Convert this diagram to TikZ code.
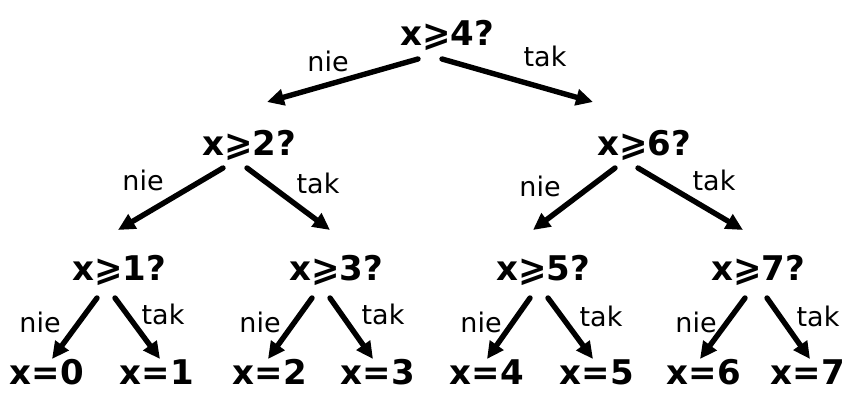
\documentclass[tikz,border=0pt]{standalone}
\usepackage{fontspec}
\setmainfont{DejaVu Sans}
\usetikzlibrary{arrows.meta,calc}
\tikzset{
  ask/.style={font=\fontsize{17}{19}\selectfont\bfseries, inner sep=0pt},
  leaf/.style={ask},
  lab/.style={font=\fontsize{13.5}{15}\selectfont, inner sep=0pt},
  arr/.style={-{Triangle[length=8.5pt,width=8pt]}, line width=2.7pt, line cap=round}
}
\begin{document}
\begin{tikzpicture}[x=0.5pt,y=-0.5pt]
  \useasboundingbox (0,0) rectangle (852,394);
  % questions
  \node[ask] (q4) at (447,35) {x⩾4?};
  \node[ask] (q2) at (249,145) {x⩾2?};
  \node[ask] (q6) at (644,145) {x⩾6?};
  \node[ask] (q1) at (119,270) {x⩾1?};
  \node[ask] (q3) at (336,270) {x⩾3?};
  \node[ask] (q5) at (543,270) {x⩾5?};
  \node[ask] (q7) at (758,270) {x⩾7?};
  % answers
  \node[leaf] (x0) at (47,372) {x=0};
  \node[leaf] (x1) at (157,372) {x=1};
  \node[leaf] (x2) at (270,372) {x=2};
  \node[leaf] (x3) at (378,372) {x=3};
  \node[leaf] (x4) at (487,372) {x=4};
  \node[leaf] (x5) at (597,372) {x=5};
  \node[leaf] (x6) at (704,372) {x=6};
  \node[leaf] (x7) at (808,372) {x=7};
  % top
  \draw[arr] ($(q4)+(-29,24)$) -- ($(q2)+(18,-43)$);
  \draw[arr] ($(q4)+(-5,24)$) -- ($(q6)+(-51,-43)$);
  \node[lab] (n4) at (328,61) {nie};
  \node[lab] (t4) at (545,56) {tak};
  % middle
  \draw[arr] ($(q2)+(-26,23)$) -- ($(q1)+(-1,-40)$);
  \draw[arr] ($(q2)+(-2,23)$) -- ($(q3)+(-6,-40)$);
  \draw[arr] ($(q6)+(-29,23)$) -- ($(q5)+(-10,-40)$);
  \draw[arr] ($(q6)+(-6,23)$) -- ($(q7)+(-15,-40)$);
  \node[lab] (n2) at (143,180) {nie};
  \node[lab] (t2) at (318,183) {tak};
  \node[lab] (n6) at (540,186) {nie};
  \node[lab] (t6) at (714,180) {tak};
  % bottom
  \draw[arr] ($(q1)+(-22,28)$) -- ($(x0)+(5,-13)$);
  \draw[arr] ($(q1)+(-4,28)$) -- ($(x1)+(3,-13)$);
  \draw[arr] ($(q3)+(-24,28)$) -- ($(x2)+(-2,-13)$);
  \draw[arr] ($(q3)+(-6,28)$) -- ($(x3)+(-5,-13)$);
  \draw[arr] ($(q5)+(-13,28)$) -- ($(x4)+(0,-13)$);
  \draw[arr] ($(q5)+(5,28)$) -- ($(x5)+(-4,-13)$);
  \draw[arr] ($(q7)+(-13,28)$) -- ($(x6)+(-4,-13)$);
  \draw[arr] ($(q7)+(9,28)$) -- ($(x7)+(2,-13)$);
  \node[lab] (n1) at (40,322) {nie};
  \node[lab] (t1) at (163,314) {tak};
  \node[lab] (n3) at (260,322) {nie};
  \node[lab] (t3) at (383,314) {tak};
  \node[lab] (n5) at (481,322) {nie};
  \node[lab] (t5) at (601,316) {tak};
  \node[lab] (n7) at (696,322) {nie};
  \node[lab] (t7) at (818,316) {tak};
\end{tikzpicture}
\end{document}
